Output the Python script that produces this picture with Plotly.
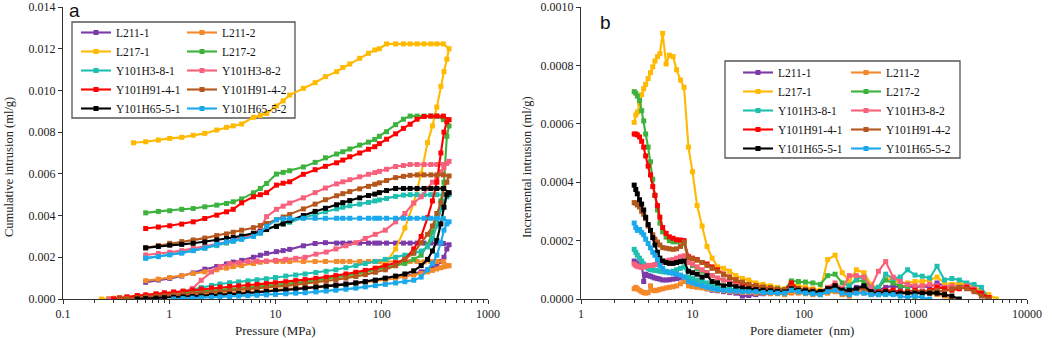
import plotly.graph_objects as go

W, H = 1052, 338
N = None


def px(x):
    return x / W


def py(y):
    return 1 - y / H


NAMES = ["L211-1", "L211-2", "L217-1", "L217-2", "Y101H3-8-1", "Y101H3-8-2",
         "Y101H91-4-1", "Y101H91-4-2", "Y101H65-5-1", "Y101H65-5-2"]
COLORS = ["#7B3AA8", "#F4892A", "#FFB900", "#3DB23D", "#1FBFB0", "#F8617B",
          "#FF0000", "#B5561C", "#000000", "#1AA9EC"]

# ---------------- panel a: cumulative intrusion (ml/g) vs pressure (MPa)
P_INT = [0.23, 0.27, 0.3, 0.34, 0.4, 0.5, 0.6, 0.75, 0.9, 1.1, 1.35, 1.65, 2.0, 2.5, 3.0,
         3.7, 4.5, 5.5, 6.7, 8.2, 10, 12.5, 15.5, 19, 24, 30, 37, 46, 57, 70, 87, 108,
         135, 165, 200, 235, 270, 300, 330, 360, 385, 410, 430]
P_EXT = [380, 330, 290, 250, 215, 185, 160, 135, 111, 95, 86, 75, 62, 50, 43, 37.6, 29.5,
         23.6, 18.3, 13.6, 11.8, 10.2, 8.25, 7.2, 6.2, 4.8, 4.0, 3.46, 2.8, 2.16, 1.68,
         1.31, 1.01, 0.79, 0.6, 0.46]

INT_L211_1 = [N, N, 0, 0.00002, 0.00003, 0.00005, 0.00006, 0.00008, 0.00009, 0.0001, 0.00012,
              0.00013, 0.00015, 0.00018, 0.0002, 0.00023, 0.00026, 0.00029, 0.00032, 0.00036,
              0.0004, 0.00044, 0.00048, 0.00053, 0.00058, 0.00063, 0.00068, 0.00073, 0.00078,
              0.00083, 0.0009, 0.00097, 0.00104, 0.0011, 0.0012, 0.0013, 0.0014, 0.00148,
              0.0016, 0.0018, 0.002, 0.0024, 0.0026]
INT_L211_2 = [N, N, 0, 0.00002, 0.00004, 0.00006, 0.00008, 0.0001, 0.00012, 0.00014, 0.00016,
              0.00018, 0.0002, 0.00022, 0.00024, 0.00027, 0.0003, 0.00033, 0.00036, 0.0004,
              0.00043, 0.00047, 0.0005, 0.00054, 0.00058, 0.00062, 0.00066, 0.0007, 0.00075,
              0.0008, 0.00086, 0.00092, 0.001, 0.00107, 0.00115, 0.00122, 0.0013, 0.00137,
              0.00144, 0.0015, 0.00155, 0.00158, 0.0016]
INT_L217_1 = [0, 0.00002, 0.00004, 0.00006, 0.00008, 0.0001, 0.00013, 0.00016, 0.0002, 0.00023,
              0.00027, 0.0003, 0.00033, 0.00037, 0.0004, 0.00044, 0.00048, 0.00052, 0.00056,
              0.0006, 0.00064, 0.00069, 0.00074, 0.0008, 0.00086, 0.00093, 0.001, 0.0011,
              0.0012, 0.0013, 0.00145, 0.0017, 0.0024, 0.0034, 0.0046, 0.006, 0.0075, 0.0083,
              0.0092, 0.0102, 0.0109, 0.0115, 0.012]
INT_L217_2 = [N, N, 0, 0.00003, 0.00006, 0.0001, 0.00013, 0.00017, 0.0002, 0.00024, 0.00028,
              0.00032, 0.00036, 0.0004, 0.00044, 0.00048, 0.00052, 0.00056, 0.0006, 0.00064,
              0.00068, 0.00073, 0.00078, 0.00083, 0.0009, 0.00097, 0.00104, 0.00112, 0.0012,
              0.0013, 0.0014, 0.0015, 0.0016, 0.0017, 0.0019, 0.0021, 0.0026, 0.0032, 0.0039,
              0.0047, 0.0056, 0.0078, 0.0083]
INT_Y3_1 = [N, N, 0, 0.00002, 0.00005, 0.0001, 0.00013, 0.0002, 0.00025, 0.0003, 0.00035,
            0.00045, 0.00055, 0.00065, 0.00072, 0.00078, 0.00082, 0.00087, 0.00092, 0.00097,
            0.00103, 0.0011, 0.00115, 0.0012, 0.00127, 0.00133, 0.0014, 0.0015, 0.0016,
            0.0017, 0.0018, 0.0019, 0.002, 0.0021, 0.0022, 0.0023, 0.0025, 0.0029, 0.0035,
            0.0043, 0.0047, 0.0049, 0.005]
INT_Y3_2 = [N, 0, 0.00002, 0.00004, 0.00008, 0.00012, 0.00016, 0.0002, 0.00024, 0.00028,
            0.00034, 0.0005, 0.0009, 0.0013, 0.00155, 0.0017, 0.00175, 0.0018, 0.00182,
            0.00182, 0.00185, 0.0019, 0.00195, 0.002, 0.00215, 0.00225, 0.0024, 0.00255,
            0.0027, 0.0029, 0.0031, 0.0033, 0.0037, 0.0041, 0.0046, 0.0049, 0.0053, 0.0056,
            0.0058, 0.0061, 0.0063, 0.0065, 0.0066]
INT_Y91_1 = [N, N, 0, 0.00005, 0.0001, 0.00017, 0.0002, 0.00025, 0.0003, 0.00034, 0.00038,
             0.00043, 0.00048, 0.00053, 0.00057, 0.0006, 0.00063, 0.00067, 0.0007, 0.00074,
             0.00078, 0.00083, 0.00088, 0.00093, 0.00099, 0.00105, 0.00112, 0.0012, 0.00128,
             0.00137, 0.00148, 0.0016, 0.00173, 0.0019, 0.0024, 0.003, 0.0039, 0.0047,
             0.0056, 0.007, 0.008, 0.0085, 0.0086]
INT_Y91_2 = [N, N, N, 0, 0.00003, 0.00006, 0.0001, 0.00013, 0.00016, 0.0002, 0.00023,
             0.00027, 0.0003, 0.00033, 0.00036, 0.0004, 0.00043, 0.00047, 0.0005, 0.00054,
             0.00058, 0.00063, 0.00068, 0.00073, 0.00079, 0.00085, 0.00092, 0.001, 0.00108,
             0.00117, 0.00128, 0.0014, 0.0016, 0.0019, 0.0022, 0.0027, 0.0031, 0.0035,
             0.0041, 0.0046, 0.0053, 0.0056, 0.0059]
INT_Y65_1 = [N, N, N, N, N, 0, 0.00002, 0.00004, 0.00006, 0.00008, 0.0001, 0.00012, 0.00014,
             0.00017, 0.0002, 0.00023, 0.00026, 0.00029, 0.00032, 0.00036, 0.0004, 0.00044,
             0.00048, 0.00052, 0.00056, 0.0006, 0.00065, 0.0007, 0.00076, 0.00083, 0.0009,
             0.001, 0.0011, 0.0012, 0.00135, 0.0016, 0.0019, 0.0023, 0.0028, 0.0036, 0.0044,
             0.005, 0.0051]
INT_Y65_2 = [N, N, N, N, N, N, N, N, N, 0, 0.00002, 0.00004, 0.00006, 0.00008, 0.0001,
             0.00012, 0.00014, 0.00016, 0.00018, 0.0002, 0.00022, 0.00025, 0.00028, 0.0003,
             0.00034, 0.00038, 0.00042, 0.00047, 0.00052, 0.00058, 0.00064, 0.0007, 0.00077,
             0.00083, 0.0009, 0.00105, 0.0014, 0.0017, 0.0021, 0.0027, 0.0033, 0.0036, 0.0037]

EXT_L211_1 = [0.00266, 0.00268, 0.00268, 0.00268, 0.00268, 0.00268, 0.00268, 0.00268,
              0.00268, 0.00268, 0.00268, 0.00268, 0.00268, 0.00268, 0.00268, 0.00268, 0.0027,
              0.00266, 0.00255, 0.00238, 0.00232, 0.00227, 0.00219, 0.0021, 0.002, 0.00185,
              0.00177, 0.00168, 0.00156, 0.00143, 0.00125, 0.0011, 0.00099, 0.00091, 0.0008, N]
EXT_L211_2 = [0.0018, 0.0018, 0.0018, 0.00178, 0.0018, 0.0018, 0.0018, 0.00179, 0.0018,
              0.0018, 0.0018, 0.0018, 0.0018, 0.0018, 0.0018, 0.0018, 0.0018, 0.0018, 0.0018,
              0.0018, 0.0018, 0.0018, 0.0018, 0.00176, 0.0017, 0.0016, 0.00155, 0.00148,
              0.0014, 0.0013, 0.00122, 0.00112, 0.00103, 0.00095, 0.00088, N]
EXT_L217_1 = [0.01223, 0.01223, 0.01223, 0.01223, 0.01223, 0.01223, 0.01223, 0.01223,
              0.01223, 0.012, 0.01194, 0.01178, 0.01154, 0.01127, 0.0111, 0.0109, 0.01066,
              0.01037, 0.0101, 0.00978, 0.0095, 0.00925, 0.0089, 0.0088, 0.00871, 0.00839,
              0.0083, 0.00823, 0.0081, 0.00794, 0.00785, 0.00775, 0.0077, 0.00762, 0.00754,
              0.00749]
EXT_L217_2 = [0.0086, 0.00877, 0.00877, 0.00877, 0.00877, 0.00877, 0.00862, 0.00836, 0.00802,
              0.0078, 0.00765, 0.00752, 0.00738, 0.00719, 0.00706, 0.00695, 0.00677, 0.00655,
              0.00633, 0.00615, 0.00607, 0.00599, 0.00554, 0.0053, 0.00509, 0.0048, 0.00466,
              0.00458, 0.0045, 0.00442, 0.00434, 0.0043, 0.00423, 0.0042, 0.00413, N]
EXT_Y3_1 = [0.005, 0.005, 0.005, 0.005, 0.005, 0.005, 0.00498, 0.00492, 0.00482, 0.00475,
            0.0047, 0.00463, 0.00455, 0.00447, 0.0044, 0.00432, 0.00418, 0.00405, 0.0039,
            0.00368, 0.0036, 0.0035, 0.00335, 0.00315, 0.00303, 0.00286, 0.00276, 0.00268,
            0.00256, 0.00243, 0.00232, 0.00222, 0.00213, 0.00204, 0.00196, N]
EXT_Y3_2 = [0.00645, 0.00645, 0.00645, 0.00645, 0.00645, 0.00645, 0.0064, 0.00635, 0.00622,
            0.00612, 0.00606, 0.00598, 0.00586, 0.00572, 0.00562, 0.00552, 0.00532, 0.0051,
            0.00485, 0.0046, 0.00445, 0.0043, 0.00395, 0.0034, 0.0031, 0.00294, 0.00282,
            0.00273, 0.00264, 0.00252, 0.00242, 0.00232, 0.00224, 0.00218, 0.00211, N]
EXT_Y91_1 = [0.00877, 0.00877, 0.00877, 0.00875, 0.00862, 0.00838, 0.00818, 0.00792, 0.00766,
             0.00745, 0.0073, 0.00718, 0.007, 0.00682, 0.00666, 0.00653, 0.00636, 0.0062,
             0.00598, 0.00562, 0.00555, 0.00546, 0.0051, 0.005, 0.0049, 0.00461, 0.0043,
             0.00418, 0.00402, 0.00386, 0.0037, 0.00359, 0.00351, 0.00345, 0.00338, N]
EXT_Y91_2 = [0.00595, 0.00595, 0.00595, 0.00595, 0.00595, 0.00593, 0.00588, 0.00582, 0.00568,
             0.00557, 0.0055, 0.0054, 0.00528, 0.00515, 0.00505, 0.00495, 0.00476, 0.00455,
             0.00432, 0.00405, 0.00393, 0.0038, 0.00362, 0.00352, 0.00342, 0.0033, 0.0032,
             0.00312, 0.00304, 0.00292, 0.00283, 0.00275, 0.00267, 0.00256, 0.00246, N]
EXT_Y65_1 = [0.0053, 0.0053, 0.0053, 0.0053, 0.0053, 0.0053, 0.0053, 0.0053, 0.0052, 0.0051,
             0.00503, 0.00496, 0.00485, 0.00472, 0.00462, 0.00452, 0.00435, 0.0042, 0.004,
             0.00375, 0.0036, 0.00348, 0.00333, 0.00322, 0.00315, 0.00302, 0.00295, 0.0029,
             0.00283, 0.00273, 0.00267, 0.00262, 0.00258, 0.00252, 0.00245, N]
EXT_Y65_2 = [0.00385, 0.00387, 0.00387, 0.00387, 0.00387, 0.00387, 0.00387, 0.00387, 0.00387,
             0.00387, 0.00387, 0.00387, 0.00387, 0.00387, 0.00387, 0.00387, 0.00387, 0.00387,
             0.00387, 0.00387, 0.00385, 0.0038, 0.00347, 0.0032, 0.003, 0.00288, 0.0028,
             0.00274, 0.00262, 0.00245, 0.00232, 0.0022, 0.00212, 0.00203, 0.00196, N]

LEFT_INT = [INT_L211_1, INT_L211_2, INT_L217_1, INT_L217_2, INT_Y3_1, INT_Y3_2,
            INT_Y91_1, INT_Y91_2, INT_Y65_1, INT_Y65_2]
LEFT_EXT = [EXT_L211_1, EXT_L211_2, EXT_L217_1, EXT_L217_2, EXT_Y3_1, EXT_Y3_2,
            EXT_Y91_1, EXT_Y91_2, EXT_Y65_1, EXT_Y65_2]

# ---------------- panel b: incremental intrusion (values in 1e-4 ml/g) vs pore diameter (nm)
D_NM = [3.0, 3.1, 3.2, 3.35, 3.5, 3.65, 3.8, 4.0, 4.2, 4.4, 4.6, 4.85, 5.1, 5.4, 5.8, 6.2,
        6.7, 7.2, 7.8, 8.4, 9.2, 10, 11, 12.2, 13.5, 15, 16.8, 19, 21.5, 24.5, 28, 32, 37,
        43, 50, 58, 67, 77, 89, 103, 120, 140, 163, 190, 220, 255, 295, 345, 400, 465, 540,
        630, 730, 850, 990, 1150, 1340, 1560, 1820, 2120, 2470, 2880, 3350, 3900, 4550, 5300]

INC_L211_1 = [1.3, 1.25, 1.2, 1.15, 1.2, 0.6, 0.85, 0.8, 0.78, 0.75, 0.72, 0.7, 0.68, 0.65,
              0.65, 0.66, 0.68, 0.7, 0.72, 0.75, 0.55, 0.5, 0.45, 0.42, 0.35, 0.3, 0.28, 0.25,
              0.22, 0.2, 0.1, 0.12, 0.15, 0.18, 0.2, 0.2, 0.2, 0.3, 0.25, 0.25, 0.2, 0.2, 0.35,
              0.45, 0.3, 0.3, 0.4, 0.45, 0.3, 0.3, 0.4, 0.45, 0.4, 0.45, 0.4, 0.45, 0.4, 0.55,
              0.45, 0.4, 0.45, 0.5, 0.35, 0.15, 0.0, N]
INC_L211_2 = [0.35, 0.4, 0.35, 0.3, 0.25, 0.22, 0.2, 0.22, 0.45, 0.3, 0.28, 0.3, 0.33, 0.35,
              0.38, 0.4, 0.42, 0.45, 0.52, 0.6, 0.45, 0.42, 0.4, 0.38, 0.35, 0.32, 0.3, 0.28,
              0.25, 0.25, 0.22, 0.22, 0.2, 0.2, 0.18, 0.18, 0.15, 0.2, 0.2, 0.18, 0.15, 0.15,
              0.2, 0.25, 0.15, 0.1, 0.3, 0.2, 0.15, 0.15, 0.2, 0.2, 0.18, 0.2, 0.2, 0.18, 0.2,
              0.15, 0.1, 0.0, N, N, N, N, N, N]
INC_L217_1 = [6.05, 6.3, 6.4, 6.7, 7.0, 7.2, 7.35, 7.55, 7.75, 7.95, 8.15, 8.3, 8.4, 9.1,
              8.05, 8.35, 8.3, 7.85, 7.5, 7.25, 5.2, 4.36, 3.2, 2.5, 1.8, 1.4, 1.1, 1.05, 0.95,
              0.8, 0.7, 0.65, 0.55, 0.5, 0.45, 0.4, 0.35, 0.55, 0.45, 0.4, 0.35, 0.3, 1.35,
              1.5, 0.9, 0.6, 1.0, 0.9, 0.5, 0.35, 0.7, 0.65, 0.55, 0.55, 0.6, 0.6, 0.65, 0.75,
              0.55, 0.5, 0.55, 0.5, 0.4, 0.3, 0.15, 0.0]
INC_L217_2 = [7.1, 7.05, 6.95, 6.8, 6.45, 6.1, 5.65, 5.2, 4.7, 4.1, 3.55, 3.05, 2.6, 2.3,
              2.12, 2.0, 1.96, 1.96, 1.98, 1.9, 1.3, 1.15, 1.05, 0.95, 0.9, 0.8, 0.7, 0.65,
              0.6, 0.55, 0.5, 0.45, 0.42, 0.4, 0.38, 0.35, 0.32, 0.62, 0.6, 0.58, 0.55, 0.5,
              0.8, 0.85, 0.55, 0.45, 0.65, 0.6, 0.35, 0.4, 0.65, 0.55, 0.45, 0.4, 0.0,
              N, N, N, N, N, N, N, N, N, N, N]
INC_Y3_1 = [1.7, 1.6, 1.5, 1.4, 1.3, 1.2, 1.1, 1.05, 1.0, 1.0, 0.98, 0.97, 0.95, 0.93, 0.92,
            0.92, 0.95, 1.0, 1.05, 1.1, 0.75, 0.7, 0.65, 0.6, 0.55, 0.48, 0.42, 0.38, 0.35,
            0.32, 0.3, 0.28, 0.27, 0.26, 0.25, 0.24, 0.22, 0.35, 0.3, 0.28, 0.25, 0.2, 0.3,
            0.4, 0.3, 0.45, 0.7, 0.75, 0.4, 0.4, 0.85, 0.7, 0.75, 1.0, 0.82, 0.78, 0.72, 1.12,
            0.65, 0.7, 0.65, 0.55, 0.5, 0.4, 0.0, N]
INC_Y3_2 = [1.2, 1.15, 1.12, 1.1, 1.08, 1.1, 1.12, 1.15, 1.15, 1.15, 1.18, 1.2, 1.22, 1.25,
            1.3, 1.33, 1.35, 1.4, 1.45, 1.48, 1.25, 1.2, 1.1, 1.0, 0.9, 0.8, 0.72, 0.65, 0.58,
            0.52, 0.47, 0.42, 0.38, 0.35, 0.32, 0.3, 0.28, 0.4, 0.35, 0.32, 0.28, 0.25, 0.4,
            0.55, 0.35, 0.8, 0.8, 0.75, 0.4, 0.95, 1.28, 0.75, 0.6, 0.5, 0.45, 0.45, 0.5, 0.45,
            0.4, 0.45, 0.4, 0.45, 0.35, 0.2, 0.05, N]
INC_Y91_1 = [5.65, 5.65, 5.62, 5.55, 5.4, 5.2, 4.9, 4.55, 4.25, 3.85, 3.55, 3.2, 2.8, 2.45,
             2.25, 2.13, 2.08, 2.03, 2.02, 2.0, 1.45, 1.4, 1.35, 1.25, 1.2, 1.1, 1.0, 0.85,
             0.75, 0.65, 0.55, 0.48, 0.45, 0.4, 0.37, 0.33, 0.3, 0.55, 0.35, 0.32, 0.3, 0.25,
             0.35, 0.45, 0.3, 0.2, 0.3, 0.4, 0.2, 0.25, 0.3, 0.3, 0.25, 0.25, 0.3, 0.25, 0.3,
             0.4, 0.35, 0.3, 0.35, 0.4, 0.3, 0.2, 0.05, N]
INC_Y91_2 = [3.3, 3.28, 3.22, 3.15, 3.0, 2.9, 2.75, 2.5, 2.35, 2.2, 2.05, 1.95, 1.85, 1.76,
             1.74, 1.72, 1.7, 1.72, 1.8, 1.95, 1.42, 1.38, 1.33, 1.25, 1.15, 1.05, 0.95, 0.85,
             0.75, 0.65, 0.58, 0.5, 0.45, 0.4, 0.35, 0.32, 0.3, 0.4, 0.35, 0.33, 0.3, 0.25,
             0.3, 0.4, 0.25, 0.2, 0.3, 0.35, 0.2, 0.2, 0.25, 0.22, 0.2, 0.25, 0.25, 0.25, 0.25,
             0.3, 0.25, 0.35, 0.4, 0.35, 0.25, 0.1, 0.0, N]
INC_Y65_1 = [3.9, 3.75, 3.6, 3.4, 3.25, 3.05, 2.8, 2.55, 2.35, 2.1, 1.85, 1.6, 1.4, 1.3,
             1.25, 1.22, 1.22, 1.25, 1.28, 1.3, 0.95, 0.9, 0.85, 0.75, 0.8, 0.6, 0.55, 0.45,
             0.5, 0.42, 0.38, 0.35, 0.32, 0.3, 0.28, 0.26, 0.24, 0.35, 0.3, 0.28, 0.25, 0.25,
             0.35, 0.45, 0.3, 0.3, 0.35, 0.45, 0.25, 0.2, 0.25, 0.2, 0.2, 0.2, 0.2, 0.2, 0.2,
             0.2, 0.15, 0.1, 0.0, N, N, N, N, N]
INC_Y65_2 = [2.6, 2.45, 2.35, 2.38, 2.28, 2.2, 2.05, 1.9, 1.75, 1.6, 1.5, 1.35, 1.15, 1.05,
             0.95, 0.9, 0.88, 0.85, 0.82, 0.75, 0.6, 0.55, 0.5, 0.45, 0.4, 0.35, 0.32, 0.3,
             0.28, 0.27, 0.25, 0.25, 0.25, 0.22, 0.22, 0.2, 0.2, 0.3, 0.25, 0.2, 0.18, 0.15,
             0.25, 0.3, 0.2, 0.15, 0.2, 0.2, 0.15, 0.15, 0.15, 0.15, 0.1, 0.05, 0.1, 0.05, 0.0,
             N, N, N, N, N, N, N, N, N]

RIGHT_INC = [INC_L211_1, INC_L211_2, INC_L217_1, INC_L217_2, INC_Y3_1, INC_Y3_2,
             INC_Y91_1, INC_Y91_2, INC_Y65_1, INC_Y65_2]
INC_UNIT = 1e-4

for arr in LEFT_INT:
    assert len(arr) == len(P_INT), len(arr)
for arr in LEFT_EXT:
    assert len(arr) == len(P_EXT), len(arr)
for arr in RIGHT_INC:
    assert len(arr) == len(D_NM), len(arr)

SERIF = "Liberation Serif"
SANS = "Liberation Sans"

fig = go.Figure()

for i, name in enumerate(NAMES):
    fig.add_trace(go.Scatter(
        x=P_INT + P_EXT, y=LEFT_INT[i] + LEFT_EXT[i], name=name,
        mode="lines+markers",
        line=dict(color=COLORS[i], width=2.1),
        marker=dict(symbol="square", size=5, color=COLORS[i]),
        xaxis="x", yaxis="y", legend="legend" if i % 2 == 0 else "legend2"))

for i, name in enumerate(NAMES):
    fig.add_trace(go.Scatter(
        x=D_NM, y=[None if v is None else v * INC_UNIT for v in RIGHT_INC[i]], name=name,
        mode="lines+markers",
        line=dict(color=COLORS[i], width=2.1),
        marker=dict(symbol="square", size=5, color=COLORS[i]),
        xaxis="x2", yaxis="y2", legend="legend3" if i % 2 == 0 else "legend4"))

tickfont = dict(family=SERIF, size=12, color="#222")
ax_common = dict(showline=True, linecolor="#333", linewidth=1, ticks="outside", ticklen=4,
                 tickcolor="#333", showgrid=False, zeroline=False, tickfont=tickfont,
                 automargin=False)
YDOM = [py(299), py(7)]

leg_common = dict(font=dict(family=SERIF, size=11.5, color="#111"),
                  bgcolor="rgba(0,0,0,0)", borderwidth=0, xanchor="left", yanchor="top",
                  traceorder="normal", itemwidth=30, tracegroupgap=0)

fig.update_layout(
    width=W, height=H, margin=dict(l=0, r=0, t=0, b=0),
    paper_bgcolor="white", plot_bgcolor="white", template="none",
    showlegend=True, separators=".", hovermode=False,
    xaxis=dict(domain=[px(63), px(488)], type="log", range=[-1, 3], dtick=1,
               exponentformat="none", anchor="y",
               minor=dict(ticks="outside", ticklen=3, tickcolor="#333", showgrid=False),
               **ax_common),
    yaxis=dict(domain=YDOM, range=[0, 0.014], dtick=0.002, tickformat=".3f", anchor="x",
               **ax_common),
    xaxis2=dict(domain=[px(581), px(1027)], type="log", range=[0, 4], dtick=1,
                exponentformat="none", anchor="y2",
                minor=dict(ticks="outside", ticklen=3, tickcolor="#333", showgrid=False),
                **ax_common),
    yaxis2=dict(domain=YDOM, range=[0, 0.001], dtick=0.0002, tickformat=".4f", anchor="x2",
                **ax_common),
    legend=dict(x=px(76), y=py(18), **leg_common),
    legend2=dict(x=px(182), y=py(18), **leg_common),
    legend3=dict(x=px(738), y=py(58), **leg_common),
    legend4=dict(x=px(846), y=py(58), **leg_common),
    shapes=[
        dict(type="rect", xref="paper", yref="paper", x0=px(72), x1=px(295),
             y0=py(118), y1=py(22), line=dict(color="#555", width=1.3),
             fillcolor="white", layer="below"),
        dict(type="rect", xref="paper", yref="paper", x0=px(725), x1=px(960),
             y0=py(158), y1=py(61), line=dict(color="#555", width=1.3),
             fillcolor="white", layer="below"),
    ],
    annotations=[
        dict(text="Pressure (MPa)", x=px(275), y=py(330), xref="paper", yref="paper",
             showarrow=False, xanchor="center", yanchor="middle",
             font=dict(family=SERIF, size=13, color="#222")),
        dict(text="Cumulative intrusion (ml/g)", x=px(9), y=py(167), xref="paper",
             yref="paper", showarrow=False, textangle=-90, xanchor="center", yanchor="middle",
             font=dict(family=SERIF, size=12.5, color="#222")),
        dict(text="Pore diameter  (nm)", x=px(802), y=py(330), xref="paper", yref="paper",
             showarrow=False, xanchor="center", yanchor="middle",
             font=dict(family=SERIF, size=13, color="#222")),
        dict(text="Incremental intrusion (ml/g)", x=px(527), y=py(167), xref="paper",
             yref="paper", showarrow=False, textangle=-90, xanchor="center", yanchor="middle",
             font=dict(family=SERIF, size=12.5, color="#222")),
        dict(text="a", x=px(74), y=py(10), xref="paper", yref="paper", showarrow=False,
             xanchor="center", yanchor="middle", font=dict(family=SANS, size=19, color="#111")),
        dict(text="b", x=px(605), y=py(22), xref="paper", yref="paper", showarrow=False,
             xanchor="center", yanchor="middle", font=dict(family=SANS, size=19, color="#111")),
    ],
)

# remove the browser's default 8px body margin so the figure sits at the page origin
fig.write_html("out.html", config={"displayModeBar": False},
               post_script="document.body.style.margin='0';document.body.style.overflow='hidden';")
